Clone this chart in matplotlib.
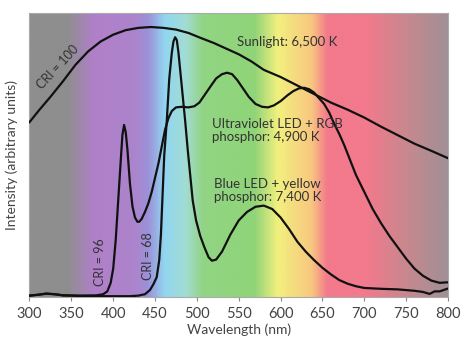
import numpy as np
import matplotlib
matplotlib.use('Agg')
import matplotlib.pyplot as plt
from matplotlib.colors import LinearSegmentedColormap

plt.rcParams['font.family'] = ['Lato', 'DejaVu Sans']

# ── data (wavelength nm, arbitrary intensity) ──
sun_wl = [300, 312, 325, 340, 355, 370, 385, 400, 415, 430, 445, 460, 475,
          490, 505, 520, 535, 550, 565, 580, 600, 620, 640, 660, 680, 700,
          720, 740, 760, 780, 800]
sun_int = [0.616, 0.66, 0.705, 0.76, 0.818, 0.865, 0.90, 0.924, 0.94, 0.948,
           0.951, 0.948, 0.942, 0.93, 0.912, 0.895, 0.875, 0.855, 0.83, 0.80,
           0.775, 0.745, 0.715, 0.685, 0.66, 0.632, 0.60, 0.57, 0.54, 0.515,
           0.489]

uv_wl = [300, 310, 320, 330, 340, 360, 380, 388, 393, 397, 400, 403, 406, 409,
         411, 413, 415, 417, 420, 423, 426, 429, 431, 434, 438, 442, 446, 450,
         454, 458, 462, 466, 470, 475, 482, 490, 497, 503, 510, 517, 523, 530,
         536, 542, 548, 555, 562, 570, 578, 585, 592, 600, 608, 615, 622, 628,
         634, 640, 646, 652, 658, 664, 670, 676, 682, 690, 700, 710, 720, 730,
         740, 750, 760, 770, 780, 790, 800]
uv_int = [0.005, 0.008, 0.012, 0.01, 0.006, 0.005, 0.006, 0.01, 0.02, 0.05,
          0.10, 0.20, 0.34, 0.48, 0.57, 0.606, 0.58, 0.52, 0.40, 0.32, 0.28,
          0.265, 0.265, 0.275, 0.30, 0.33, 0.37, 0.42, 0.47, 0.53, 0.59, 0.63,
          0.655, 0.668, 0.67, 0.668, 0.672, 0.685, 0.715, 0.745, 0.77, 0.785,
          0.79, 0.785, 0.765, 0.735, 0.705, 0.68, 0.67, 0.668, 0.675, 0.69,
          0.71, 0.725, 0.735, 0.737, 0.732, 0.72, 0.70, 0.68, 0.65, 0.61,
          0.575, 0.535, 0.49, 0.43, 0.37, 0.31, 0.26, 0.215, 0.175, 0.135,
          0.10, 0.075, 0.058, 0.05, 0.052]

blue_wl = [300, 310, 320, 330, 340, 360, 380, 400, 420, 430, 438, 444, 448,
           452, 455, 457, 459, 461, 464, 467, 470, 472, 474, 476, 478, 480,
           483, 486, 489, 492, 495, 499, 504, 509, 514, 518, 523, 530, 540,
           550, 560, 570, 580, 590, 600, 610, 620, 630, 640, 650, 660, 670,
           680, 690, 700, 720, 740, 760, 770, 778, 784, 790, 800]
blue_int = [0.005, 0.008, 0.012, 0.01, 0.006, 0.004, 0.003, 0.003, 0.003,
            0.005, 0.01, 0.025, 0.045, 0.07, 0.13, 0.22, 0.36, 0.50, 0.62,
            0.77, 0.86, 0.90, 0.915, 0.905, 0.86, 0.80, 0.71, 0.62, 0.52,
            0.43, 0.34, 0.27, 0.215, 0.175, 0.14, 0.128, 0.132, 0.16, 0.22,
            0.27, 0.30, 0.318, 0.322, 0.31, 0.28, 0.24, 0.195, 0.16, 0.13,
            0.103, 0.08, 0.06, 0.047, 0.038, 0.032, 0.029, 0.027, 0.022,
            0.018, 0.011, 0.02, 0.02, 0.03]

xticks = [300, 350, 400, 450, 500, 550, 600, 650, 700, 750, 800]

# background spectrum colour stops (nm, colour)
bg_stops = [(300, '#8e8e8e'), (345, '#8e8e8e'), (375, '#b080c8'),
            (425, '#ac84cc'), (441, '#9c90d8'), (462, '#92d6f0'),
            (486, '#a2dcd4'), (508, '#92d484'), (570, '#90d478'),
            (597, '#f2f07e'), (637, '#f8c880'), (657, '#f27a8c'),
            (704, '#f27a8c'), (752, '#c8888f'), (800, '#a09096')]

fig = plt.figure(figsize=(4.74, 3.45), dpi=100)
ax = fig.add_axes([0.0622, 0.139, 0.883, 0.823])

cmap = LinearSegmentedColormap.from_list(
    'spec', [((w - 300) / 500, c) for w, c in bg_stops])
grad = np.linspace(0, 1, 500)[None, :]
ax.imshow(grad, cmap=cmap, extent=[300, 800, 0, 1], aspect='auto',
          interpolation='bilinear', zorder=0)

for wl, it in [(sun_wl, sun_int), (uv_wl, uv_int), (blue_wl, blue_int)]:
    ax.plot(wl, it, color='#111111', lw=1.6, solid_joinstyle='round', zorder=3)

ax.set_xlim(300, 800)
ax.set_ylim(0, 1)
ax.set_xticks(xticks)
ax.set_yticks([])
ax.tick_params(axis='x', length=3, color='#888888', labelsize=10.5,
               labelcolor='#444444', pad=4)
for s in ax.spines.values():
    s.set_color('#aaaaaa')
    s.set_linewidth(0.8)
ax.set_xlabel('Wavelength (nm)', fontsize=10, color='#444444', labelpad=2)
ax.set_ylabel('Intensity (arbitrary units)', fontsize=10, color='#444444',
              labelpad=8)

tc = '#333333'
ax.text(548, 0.898, 'Sunlight: 6,500 K', fontsize=9.5, color=tc,
        ha='left', va='center', zorder=4)
ax.text(518, 0.586, 'Ultraviolet LED + RGB\nphosphor: 4,900 K', fontsize=9.5,
        color=tc, ha='left', va='center', linespacing=1.1, zorder=4)
ax.text(521, 0.377, 'Blue LED + yellow\nphosphor: 7,400 K', fontsize=9.5,
        color=tc, ha='left', va='center', linespacing=1.1, zorder=4)
ax.text(334, 0.81, 'CRI = 100', fontsize=9, color=tc, rotation=47,
        ha='center', va='center', rotation_mode='anchor', zorder=4)
ax.text(384, 0.123, 'CRI = 96', fontsize=9, color=tc, rotation=90,
        ha='center', va='center', zorder=4)
ax.text(441.5, 0.144, 'CRI = 68', fontsize=9, color=tc, rotation=90,
        ha='center', va='center', zorder=4)

fig.savefig('out.png', dpi=100)
